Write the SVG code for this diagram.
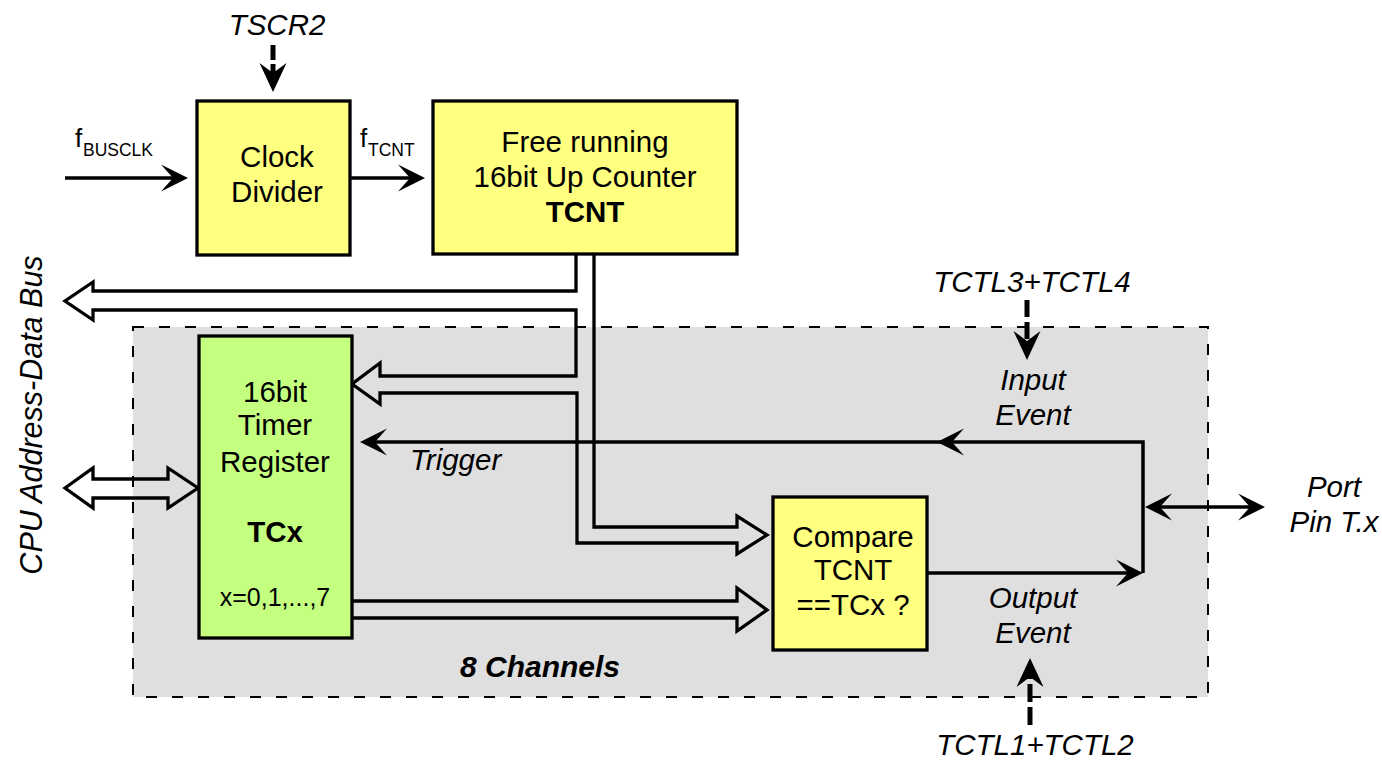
<svg xmlns="http://www.w3.org/2000/svg" xmlns:xlink="http://www.w3.org/1999/xlink" width="1382" height="760" viewBox="0 0 1382 760">
  <style>
    text { font-family: "Liberation Sans", Arial, sans-serif; font-size: 29.5px; fill: #000; }
    .it { font-style: italic; }
    .b { font-weight: bold; }
    .mid { text-anchor: middle; }
    .box { stroke: #000; stroke-width: 3.3; }
    .yel { fill: #ffff80; }
    .grn { fill: #c4ff80; }
    .wire { fill: none; stroke: #000; stroke-width: 3.5; }
    .bus { fill: none; stroke: #000; stroke-width: 3.3; stroke-linejoin: miter; }
    .ctl { fill: none; stroke: #000; stroke-width: 5; }
  </style>
  <defs>
    <!-- notched arrowhead, tip at the origin pointing along +x -->
    <path id="ah" d="M0,0 L-27,-13.5 L-15,0 L-27,13.5 Z" fill="#000"/>
    <path id="ahc" d="M0,0 L-29,-13.5 L-19,0 L-29,13.5 Z" fill="#000"/>
  </defs>

  <!-- channel area -->
  <rect id="channels" x="133" y="327" width="1075" height="370" fill="#dfdfdf" stroke="#000" stroke-width="2" stroke-dasharray="11 15"/>
  <text class="it b mid" x="540" y="677" style="font-size:30px">8 Channels</text>

  <!-- connectors -->
  <g id="connectors">
    <!-- clock path -->
    <path class="wire" d="M65,178 H178"/>
    <use xlink:href="#ah" transform="translate(188,178)"/>
    <path class="wire" d="M350,178 H415"/>
    <use xlink:href="#ah" transform="translate(425,178)"/>

    <!-- TCNT to CPU bus, TCx and comparator -->
    <path class="bus" d="M576,254 V291 H93 V282 L65,301 L93,320 V310 H576 V376 H380 V363 L352,384 L380,404 V393 H577 V543 H737 V554 L767,535 L737,516 V527 H594 V254"/>
    <!-- TCx to comparator -->
    <path class="bus" d="M352,601 H737 V588 L767,610 L737,631 V618 H352"/>
    <!-- CPU bus to TCx -->
    <path class="bus" d="M65,488 L93,468 V479 H168 V468 L198,488 L168,508 V498 H93 V508 Z"/>

    <!-- input event / trigger -->
    <path class="wire" d="M1143,573 V442 H368"/>
    <use xlink:href="#ah" transform="translate(360,442) rotate(180)"/>
    <use xlink:href="#ah" transform="translate(937,442) rotate(180)"/>
    <polyline points="352,432 331,442 352,452" fill="none" stroke="#000" stroke-width="2.3"/>

    <!-- output event -->
    <path class="wire" d="M927,573 H1133"/>
    <use xlink:href="#ah" transform="translate(1143,573)"/>

    <!-- port pin -->
    <path class="wire" d="M1153,507 H1257"/>
    <use xlink:href="#ah" transform="translate(1145,507) rotate(180)"/>
    <use xlink:href="#ah" transform="translate(1265,507)"/>

    <!-- control register inputs -->
    <path class="ctl" d="M273,45 V80" stroke-dasharray="15 4"/>
    <use xlink:href="#ahc" transform="translate(273,92) rotate(90)"/>
    <path class="ctl" d="M1027,300 V348" stroke-dasharray="17 5"/>
    <use xlink:href="#ahc" transform="translate(1027,360) rotate(90)"/>
    <path class="ctl" d="M1030,725 V670" stroke-dasharray="18 5"/>
    <use xlink:href="#ahc" transform="translate(1030,658) rotate(-90)"/>
  </g>

  <!-- nodes -->
  <g id="clock-divider">
    <rect class="box yel" x="197" y="101" width="153" height="154"/>
    <text class="mid" x="277" y="167">Clock</text>
    <text class="mid" x="277" y="202">Divider</text>
  </g>

  <g id="tcnt">
    <rect class="box yel" x="433" y="101" width="304" height="153"/>
    <text class="mid" x="585" y="152">Free running</text>
    <text class="mid" x="585" y="187">16bit Up Counter</text>
    <text class="mid b" x="585" y="222">TCNT</text>
  </g>

  <g id="tcx">
    <rect class="box grn" x="199" y="336" width="153" height="302"/>
    <text class="mid" x="275" y="402">16bit</text>
    <text class="mid" x="275" y="435">Timer</text>
    <text class="mid" x="275" y="472">Register</text>
    <text class="mid b" x="275" y="542">TCx</text>
    <text class="mid" x="275" y="606" style="font-size:25px">x=0,1,...,7</text>
  </g>

  <g id="compare">
    <rect class="box yel" x="773" y="497" width="154" height="153"/>
    <text class="mid" x="853" y="547">Compare</text>
    <text class="mid" x="853" y="580">TCNT</text>
    <text class="mid" x="853" y="615">==TCx ?</text>
  </g>

  <!-- labels -->
  <g id="labels">
    <text class="it mid" x="277" y="35">TSCR2</text>
    <text x="75" y="147" style="font-size:26px">f<tspan x="83" y="156" style="font-size:17.5px">BUSCLK</tspan></text>
    <text x="360" y="147" style="font-size:26px">f<tspan x="368" y="156" style="font-size:17.5px">TCNT</tspan></text>
    <text class="it" x="410" y="470">Trigger</text>
    <text class="it mid" x="1032" y="292">TCTL3+TCTL4</text>
    <text class="it mid" x="1033" y="390">Input</text>
    <text class="it mid" x="1033" y="425">Event</text>
    <text class="it mid" x="1033" y="608">Output</text>
    <text class="it mid" x="1033" y="643">Event</text>
    <text class="it mid" x="1035" y="755">TCTL1+TCTL2</text>
    <text class="it mid" x="1334" y="497">Port</text>
    <text class="it mid" x="1334" y="532">Pin T.x</text>
    <text class="it mid" transform="translate(42,415) rotate(-90)" style="font-size:30.5px">CPU Address-Data Bus</text>
  </g>
</svg>
